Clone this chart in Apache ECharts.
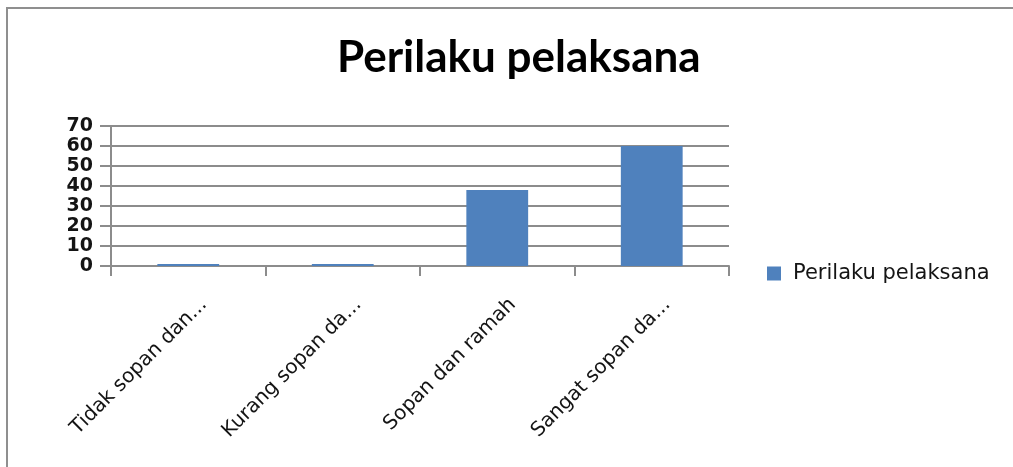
<!DOCTYPE html>
<html>
<head>
<meta charset="utf-8">
<script src="https://cdn.jsdelivr.net/npm/echarts@6/dist/echarts.min.js"></script>
<style>
  html, body { margin: 0; padding: 0; background: #fff; }
  #chart { width: 1013px; height: 467px; }
</style>
</head>
<body>
<div id="chart"></div>
<script>
// data
var categories = ['Tidak sopan dan ramah', 'Kurang sopan dan ramah', 'Sopan dan ramah', 'Sangat sopan dan ramah'];
var values = [1, 1, 38, 60];
var seriesName = 'Perilaku pelaksana';
var titleText = 'Perilaku pelaksana';

var textColor = '#141414';
var lineColor = '#8c8c8c';
var font = 'DejaVu Sans';

var option = {
    animation: false,
    backgroundColor: '#fff',
    title: {
        text: titleText,
        left: 332,
        top: 31,
        textStyle: { fontFamily: 'Lato', fontWeight: 'bold', fontSize: 44, color: '#000' }
    },
    legend: {
        data: [seriesName],
        left: 762,
        top: 258,
        orient: 'vertical',
        icon: 'rect',
        itemWidth: 14,
        itemHeight: 14,
        textStyle: { fontFamily: font, fontSize: 21, color: textColor, padding: [0, 0, 0, 7] }
    },
    grid: { left: 111, right: 284, top: 126, bottom: 201, containLabel: false },
    xAxis: {
        type: 'category',
        data: categories,
        axisLine: { lineStyle: { color: lineColor, width: 2 } },
        axisTick: { show: true, length: 10, lineStyle: { color: lineColor, width: 2 } },
        axisLabel: {
            rotate: 45,
            margin: 20,
            interval: 0,
            verticalAlign: 'top',
            padding: [12, 0, 0, 0],
            fontFamily: font,
            fontSize: 20,
            color: textColor,
            formatter: function (v) { return v.length > 15 ? v.slice(0, 15) + '...' : v; }
        }
    },
    yAxis: {
        type: 'value',
        min: 0,
        max: 70,
        interval: 10,
        axisLine: { show: true, lineStyle: { color: lineColor, width: 2 } },
        axisTick: { show: true, length: 11, lineStyle: { color: lineColor, width: 2 } },
        splitLine: { lineStyle: { color: lineColor, width: 2 } },
        axisLabel: { margin: 18, fontFamily: font, fontWeight: 'bold', fontSize: 19, color: textColor }
    },
    series: [{
        name: seriesName,
        type: 'bar',
        data: values,
        barWidth: '40%',
        itemStyle: { color: '#4f81bd' }
    }],
    graphic: [{
        type: 'rect',
        shape: { x: 7, y: 8, width: 1100, height: 600 },
        style: { fill: 'none', stroke: '#8f8f8f', lineWidth: 2 },
        silent: true
    }]
};

var myChart = echarts.init(document.getElementById('chart'));
myChart.setOption(option);
</script>
</body>
</html>
